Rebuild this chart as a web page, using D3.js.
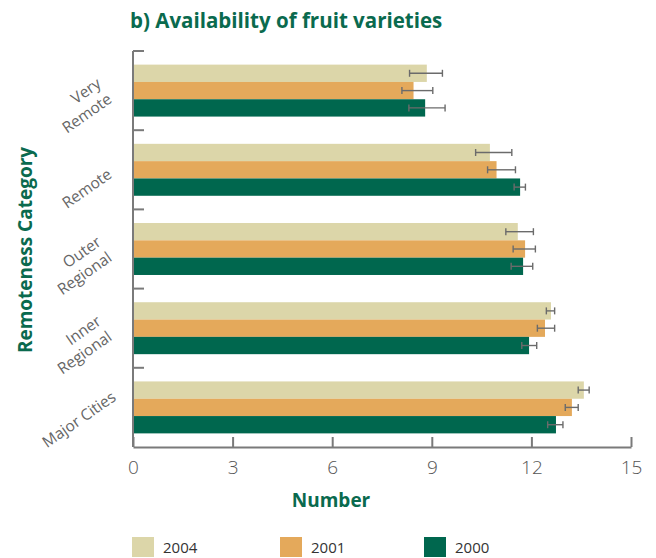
<!DOCTYPE html>
<html>
<head>
<meta charset="utf-8">
<script src="https://cdn.jsdelivr.net/npm/d3@7"></script>
<style>
  html, body { margin: 0; padding: 0; background: #fff; }
  svg { display: block; font-family: "Open Sans", "Noto Sans", sans-serif; }
</style>
</head>
<body>
<svg id="chart" width="656" height="558"></svg>
<script>
// Remoteness categories, top to bottom
const categories = ["Very Remote", "Remote", "Outer Regional", "Inner Regional", "Major Cities"];
const categoryLines = [["Very", "Remote"], ["Remote"], ["Outer", "Regional"], ["Inner", "Regional"], ["Major Cities"]];

// Survey years, in drawing order within each group
const series = ["2004", "2001", "2000"];
const seriesColors = ["#dcd6a9", "#e4a95b", "#00674e"];

// Mean number of fruit varieties available, by year
const values2004 = [8.85, 10.75, 11.59, 12.59, 13.58];
const values2001 = [8.45, 10.95, 11.81, 12.41, 13.22];
const values2000 = [8.80, 11.66, 11.75, 11.93, 12.74];

// Confidence interval bounds
const low2004  = [8.33, 10.32, 11.23, 12.45, 13.41];
const high2004 = [9.32, 11.41, 12.06, 12.70, 13.74];
const low2001  = [8.10, 10.68, 11.45, 12.18, 13.02];
const high2001 = [9.03, 11.52, 12.12, 12.70, 13.41];
const low2000  = [8.31, 11.48, 11.39, 11.71, 12.49];
const high2000 = [9.40, 11.82, 12.04, 12.16, 12.95];

const xTicks = [0, 3, 6, 9, 12, 15];

const valueTable = [values2004, values2001, values2000];
const lowTable = [low2004, low2001, low2000];
const highTable = [high2004, high2001, high2000];

const rows = [];
categories.forEach((c, ci) => {
  series.forEach((s, si) => {
    rows.push({ category: c, series: s, color: seriesColors[si],
      value: valueTable[si][ci], low: lowTable[si][ci], high: highTable[si][ci] });
  });
});

const svg = d3.select("#chart");
const green = "#0a6a4e";
const axisGray = "#7a7a7a";

const plot = { left: 133, right: 631, top: 51, bottom: 447 };

const x = d3.scaleLinear().domain([0, 15]).range([plot.left, plot.right]);
const y = d3.scaleBand().domain(categories).range([plot.top, plot.bottom]).padding(0);
const bw = y.bandwidth();
const ySub = d3.scaleBand().domain(series).range([bw * 0.172, bw * 0.828]).padding(0);

// Title
svg.append("text")
  .attr("x", 130).attr("y", 28)
  .attr("fill", green).attr("font-weight", 700).attr("font-size", 20.5)
  .text("b) Availability of fruit varieties");

// Bars
const bars = svg.append("g");
bars.selectAll("rect").data(rows).join("rect")
  .attr("x", x(0))
  .attr("y", d => y(d.category) + ySub(d.series))
  .attr("width", d => x(d.value) - x(0))
  .attr("height", ySub.bandwidth())
  .attr("fill", d => d.color);

// Error bars
const err = svg.append("g").attr("stroke", "#6b6b6b").attr("stroke-width", 1.4).attr("fill", "none");
rows.forEach(d => {
  const cy = y(d.category) + ySub(d.series) + ySub.bandwidth() / 2;
  err.append("line").attr("x1", x(d.low)).attr("x2", x(d.high)).attr("y1", cy).attr("y2", cy);
  err.append("line").attr("x1", x(d.low)).attr("x2", x(d.low)).attr("y1", cy - 3.5).attr("y2", cy + 3.5);
  err.append("line").attr("x1", x(d.high)).attr("x2", x(d.high)).attr("y1", cy - 3.5).attr("y2", cy + 3.5);
});

// X axis: ticks pointing into the plot
const xAxis = svg.append("g").attr("transform", `translate(0,${plot.bottom})`)
  .call(d3.axisBottom(x).tickValues(xTicks).tickSize(-10).tickSizeOuter(0).tickPadding(14));
xAxis.select(".domain").attr("stroke", axisGray).attr("stroke-width", 2);
xAxis.selectAll(".tick line").attr("stroke", axisGray).attr("stroke-width", 2);
xAxis.selectAll(".tick text")
  .attr("font-size", 19).attr("font-weight", 300).attr("fill", "#555")
  .attr("font-family", "'Open Sans', 'Noto Sans', sans-serif");

// Y axis: line plus ticks at group boundaries
const yAxis = svg.append("g");
yAxis.append("line")
  .attr("x1", plot.left).attr("x2", plot.left)
  .attr("y1", plot.top).attr("y2", plot.bottom)
  .attr("stroke", axisGray).attr("stroke-width", 2);
const boundaries = categories.map(c => y(c));
yAxis.selectAll("line.b").data(boundaries).join("line")
  .attr("class", "b")
  .attr("x1", plot.left).attr("x2", plot.left + 11)
  .attr("y1", d => d).attr("y2", d => d)
  .attr("stroke", axisGray).attr("stroke-width", 2);

// Rotated category labels
const labelNudge = { "Major Cities": [4, -19], "Remote": [0, -4] };
categories.forEach((c, ci) => {
  const lines = categoryLines[ci];
  const nudge = labelNudge[c] || [0, 0];
  const cy = y(c) + bw / 2;
  const g = svg.append("g")
    .attr("transform", `translate(${113 + nudge[0]},${cy + 11 + nudge[1]}) rotate(-35)`);
  lines.forEach((ln, li) => {
    g.append("text")
      .attr("x", 0).attr("y", (li - (lines.length - 1)) * 19)
      .attr("text-anchor", "end")
      .attr("font-size", 15.5).attr("fill", "#666")
      .text(ln);
  });
});

// Axis titles
svg.append("text")
  .attr("transform", `translate(32,250) rotate(-90)`)
  .attr("text-anchor", "middle")
  .attr("fill", green).attr("font-weight", 700).attr("font-size", 19)
  .text("Remoteness Category");

svg.append("text")
  .attr("x", 331).attr("y", 507)
  .attr("text-anchor", "middle")
  .attr("fill", green).attr("font-weight", 700).attr("font-size", 19)
  .text("Number");

// Legend
const legendX = [132, 280, 424];
const legend = svg.append("g");
series.forEach((s, i) => {
  legend.append("rect")
    .attr("x", legendX[i]).attr("y", 537).attr("width", 22).attr("height", 20)
    .attr("fill", seriesColors[i]);
  legend.append("text")
    .attr("x", legendX[i] + 31).attr("y", 553)
    .attr("font-size", 15).attr("fill", "#333")
    .text(s);
});
</script>
</body>
</html>
